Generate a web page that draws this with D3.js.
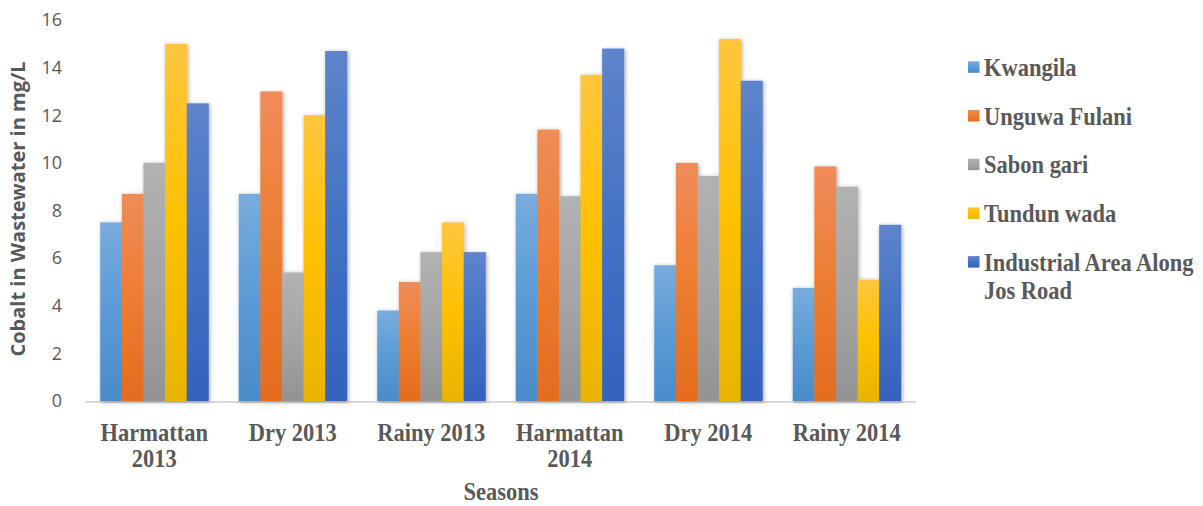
<!DOCTYPE html>
<html>
<head>
<meta charset="utf-8">
<script src="https://cdn.jsdelivr.net/npm/d3@7"></script>
<style>
  body { margin: 0; background: #fff; }
  svg { display: block; }
</style>
</head>
<body>
<div id="chart"></div>
<script>
// seasons on the x axis
const seasons = [["Harmattan", "2013"], ["Dry 2013"], ["Rainy 2013"], ["Harmattan", "2014"], ["Dry 2014"], ["Rainy 2014"]];
const sites = ["Kwangila", "Unguwa Fulani", "Sabon gari", "Tundun wada", "Industrial Area Along Jos Road"];
const yTicks = [0, 2, 4, 6, 8, 10, 12, 14, 16];

// cobalt mg/L per site, one value per season
const kwangila   = [7.5, 8.7, 3.8, 8.7, 5.7, 4.75];
const unguwa     = [8.7, 13.0, 5.0, 11.4, 10.0, 9.85];
const sabonGari  = [10.0, 5.4, 6.25, 8.6, 9.45, 9.0];
const tundunWada = [15.0, 12.0, 7.5, 13.7, 15.2, 5.1];
const industrial = [12.5, 14.7, 6.25, 14.8, 13.45, 7.4];
const seriesVals = [kwangila, unguwa, sabonGari, tundunWada, industrial];

// base colour, lighter top, darker bottom
const colors = [
  ["#5B9BD5", "#78ACDC", "#4A8BC9"],
  ["#ED7D31", "#F08C5A", "#E46C1E"],
  ["#A5A5A5", "#B2B2B2", "#939393"],
  ["#FFC000", "#FFC63D", "#E8B400"],
  ["#4472C4", "#5E84CB", "#3462BD"]
];

const W = 1203, H = 506;
const svg = d3.select("#chart").append("svg").attr("width", W).attr("height", H);
const defs = svg.append("defs");

colors.forEach((c, i) => {
  const g = defs.append("linearGradient").attr("id", "grad" + i)
    .attr("x1", 0).attr("y1", 0).attr("x2", 0).attr("y2", 1);
  g.append("stop").attr("offset", "0%").attr("stop-color", c[1]);
  g.append("stop").attr("offset", "50%").attr("stop-color", c[0]);
  g.append("stop").attr("offset", "100%").attr("stop-color", c[2]);
});

const sh = defs.append("filter").attr("id", "shadow")
  .attr("x", "-20%").attr("y", "-5%").attr("width", "140%").attr("height", "110%");
sh.append("feDropShadow").attr("dx", 1).attr("dy", 1).attr("stdDeviation", 2.2)
  .attr("flood-color", "#000").attr("flood-opacity", 0.35);

const x0 = d3.scaleBand().domain(d3.range(seasons.length))
  .range([85, 916]).paddingInner(0.22).paddingOuter(0.11);
const x1 = d3.scaleBand().domain(d3.range(sites.length)).range([0, x0.bandwidth()]);
const y = d3.scaleLinear().domain([0, 16]).range([401, 20]);

const serif = "'Liberation Serif', 'Times New Roman', serif";
const sans = "'Open Sans', 'Liberation Sans', sans-serif";
const stretch = 1.12; // serif labels are a bit taller than wide in the original

// y tick labels (no axis line)
svg.append("g").selectAll("text").data(yTicks).join("text")
  .attr("x", 62).attr("y", d => y(d)).attr("dy", "0.35em")
  .attr("text-anchor", "end")
  .style("font-family", sans)
  .style("font-size", "18px").style("fill", "#595959")
  .text(d => d);

// y title
svg.append("text")
  .attr("transform", "translate(25,209) rotate(-90)")
  .attr("text-anchor", "middle")
  .style("font-family", sans)
  .style("font-weight", "bold").style("font-size", "20px").style("fill", "#595959")
  .text("Cobalt in Wastewater in mg/L");

// axis line
svg.append("line").attr("x1", 85).attr("x2", 916).attr("y1", y(0) + 1).attr("y2", y(0) + 1)
  .attr("stroke", "#D9D9D9").attr("stroke-width", 2);

// bars
const groups = svg.append("g").selectAll("g").data(seasons).join("g")
  .attr("transform", (d, i) => "translate(" + x0(i) + ",0)")
  .attr("filter", "url(#shadow)");

groups.selectAll("rect")
  .data((d, i) => seriesVals.map((s, k) => ({k: k, v: s[i]})))
  .join("rect")
  .attr("x", d => x1(d.k))
  .attr("width", x1.bandwidth() + 0.5)
  .attr("y", d => y(d.v))
  .attr("height", d => y(0) - y(d.v))
  .attr("fill", d => "url(#grad" + d.k + ")");

// x category labels, one text per line
const catLines = [];
seasons.forEach((d, i) => d.forEach((line, j) => catLines.push({i: i, j: j, line: line})));
svg.append("g").selectAll("text").data(catLines).join("text")
  .attr("transform", d => "translate(" + (x0(d.i) + x0.bandwidth() / 2) + "," + (441 + d.j * 26) + ") scale(1," + stretch + ")")
  .attr("text-anchor", "middle")
  .style("font-family", serif)
  .style("font-weight", "bold").style("font-size", "22.5px").style("fill", "#595959")
  .text(d => d.line);

// x title
svg.append("text").attr("transform", "translate(501,500) scale(1," + stretch + ")")
  .attr("text-anchor", "middle")
  .style("font-family", serif)
  .style("font-weight", "bold").style("font-size", "22.5px").style("fill", "#595959")
  .text("Seasons");

// legend
const legLines = [["Kwangila"], ["Unguwa Fulani"], ["Sabon gari"], ["Tundun wada"], ["Industrial Area Along", "Jos Road"]];
const leg = svg.append("g").selectAll("g").data(legLines).join("g")
  .attr("transform", (d, i) => "translate(968," + (67 + i * 48.7) + ")");
leg.append("rect").attr("x", 0).attr("y", -5.7).attr("width", 11.5).attr("height", 11.5)
  .attr("fill", (d, i) => "url(#grad" + i + ")");
leg.each(function(d) {
  const g = d3.select(this);
  d.forEach((line, j) => g.append("text")
    .attr("transform", "translate(16," + (9 + j * 27.7) + ") scale(1," + stretch + ")")
    .style("font-family", serif)
    .style("font-weight", "bold").style("font-size", "22.5px").style("fill", "#595959")
    .text(line));
});
</script>
</body>
</html>
